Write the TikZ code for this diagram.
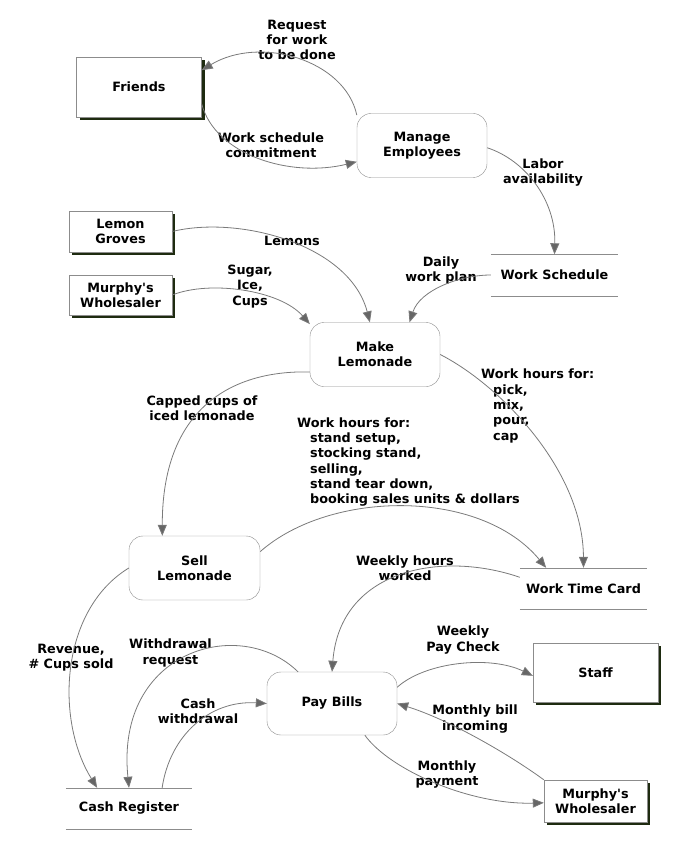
\documentclass[tikz,border=0pt]{standalone}
\usepackage{fontspec}
\setmainfont{DejaVu Sans}
\usepackage{tikz}
\usetikzlibrary{arrows.meta,shadows}
\definecolor{linegray}{HTML}{7A7A7A}
\definecolor{boxgray}{HTML}{8C8C8C}
\definecolor{tipgray}{HTML}{666666}
\definecolor{shade}{HTML}{1E2B10}

\begin{document}
\begin{tikzpicture}[x=1pt, y=-1pt,
        every node/.style={font=\bfseries\fontsize{12.8}{15.3}\selectfont, align=center, inner sep=0pt},
        entity/.style={draw=boxgray, fill=white, drop shadow={shadow xshift=3pt, shadow yshift=-3pt, fill=shade, opacity=1}},
        process/.style={draw=boxgray, fill=white, rounded corners=14pt, minimum width=130pt, minimum height=64pt},
        store/.style={minimum width=127pt, minimum height=41pt},
        flow/.style={draw=linegray, line width=0.8pt, -{Triangle[length=11pt, width=9pt, fill=tipgray]}}]
        \useasboundingbox (0,0) rectangle (696,850);

        % External entities
        \node[entity, minimum width=125pt, minimum height=60pt] (friends) at (139,87) {Friends};
        \node[entity, minimum width=103pt, minimum height=41pt] (groves) at (120.5,231.5) {Lemon\\Groves};
        \node[entity, minimum width=103pt, minimum height=40pt] (murphyIn) at (120.5,295) {Murphy\textquotesingle s\\Wholesaler};
        \node[entity, minimum width=125pt, minimum height=59pt] (staff) at (595.5,672.5) {Staff};
        \node[entity, minimum width=103pt, minimum height=42pt] (murphyOut) at (595.5,801) {Murphy\textquotesingle s\\Wholesaler};

        % Processes
        \node[process] (manage) at (422,145.5) {Manage\\Employees};
        \node[process] (make) at (375,354.5) {Make\\Lemonade};
        \node[process, minimum width=131pt] (sell) at (194.5,568) {Sell\\Lemonade};
        \node[process, minimum height=63pt] (pay) at (332,703.5) {Pay Bills};

        % Data stores
        \node[store] (schedule) at (554.5,275) {Work Schedule};
        \node[store] (timecard) at (583.5,588.5) {Work Time Card};
        \node[store, minimum width=126pt] (register) at (129,808.5) {Cash Register};
        \foreach \s in {schedule, timecard, register} {
            \draw[boxgray] (\s.north west) -- (\s.north east);
            \draw[boxgray] (\s.south west) -- (\s.south east);
        }

        % Flow labels
        \node (tRequest) at (297,40) {Request\\for work\\to be done};
        \node (tCommit) at (271,145) {Work schedule\\commitment};
        \node (tLabor) at (543,172.5) {Labor\\availability};
        \node (tLemons) at (292,240.5) {Lemons};
        \node (tSugar) at (250,286.5) {Sugar,\\Ice,\\Cups};
        \node (tDaily) at (441,270.5) {Daily\\work plan};
        \node (tCapped) at (202,408.5) {Capped cups of\\iced lemonade};
        \node[anchor=west, align=left] (tHoursSell) at (297,462) {Work hours for:\\\hspace*{13pt}stand setup,\\\hspace*{13pt}stocking stand,\\\hspace*{13pt}selling,\\\hspace*{13pt}stand tear down,\\\hspace*{13pt}booking sales units \& dollars};
        \node[anchor=west, align=left] (tHoursMake) at (481,406) {Work hours for:\\\hspace*{12pt}pick,\\\hspace*{12pt}mix,\\\hspace*{12pt}pour,\\\hspace*{12pt}cap};
        \node (tRevenue) at (71,657.5) {Revenue,\\\# Cups sold};
        \node (tWithdraw) at (170.5,653) {Withdrawal\\request};
        \node (tCash) at (198,711.5) {Cash\\withdrawal};
        \node (tWeekly) at (405,568.5) {Weekly hours\\worked};
        \node (tPayCheck) at (463,640) {Weekly\\Pay Check};
        \node (tBill) at (475,719) {Monthly bill\\incoming};
        \node (tPayment) at (447,774.5) {Monthly\\payment};

        % Flows
        \draw[flow] (manage.155) .. controls (345,60) and (260,35) .. (friends.15);
        \draw[flow] (friends.-15) .. controls (215,155) and (290,178) .. (manage.194);
        \draw[flow] (manage.-2) .. controls (525,160) and (556,200) .. (schedule.north);
        \draw[flow] (groves.east) .. controls (240,215) and (350,245) .. (make.99);
        \draw[flow] (murphyIn.east) .. controls (210,280) and (280,290) .. (make.155);
        \draw[flow] (schedule.west) .. controls (460,275) and (420,290) .. (make.43);
        \draw[flow] (make.195) .. controls (230,370) and (162,410) .. (sell.135);
        \draw[flow] (make.east) .. controls (500,385) and (583,470) .. (timecard.north);
        \draw[flow] (sell.14) .. controls (330,490) and (480,488) .. (timecard.151);
        \draw[flow] (sell.west) .. controls (60,610) and (55,720) .. (register.147);
        \draw[flow] (pay.137) .. controls (240,615) and (115,650) .. (register.north);
        \draw[flow] (register.32) .. controls (170,735) and (210,700) .. (pay.west);
        \draw[flow] (timecard.170) .. controls (440,550) and (340,570) .. (pay.north);
        \draw[flow] (pay.14) .. controls (425,662) and (490,655) .. (staff.183);
        \draw[flow] (murphyOut.north west) .. controls (510,755) and (450,720) .. (pay.east);
        \draw[flow] (pay.-44) .. controls (390,770) and (470,805) .. (murphyOut.-178);
    \end{tikzpicture}
\end{document}
